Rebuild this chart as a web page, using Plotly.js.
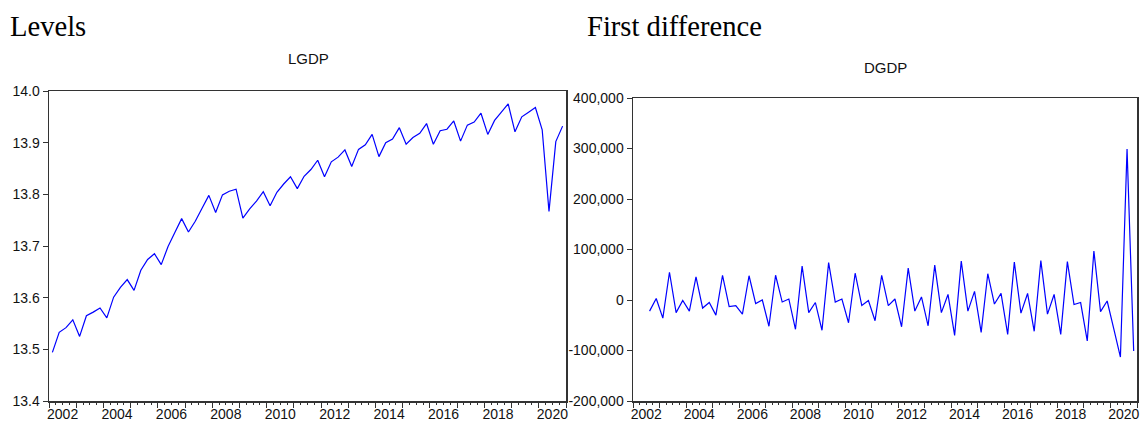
<!DOCTYPE html>
<html><head><meta charset="utf-8">
<script src="https://cdn.plot.ly/plotly-3.0.1.min.js"></script>
<style>html,body{margin:0;padding:0;background:#fff}#chart{width:1140px;height:423px}</style>
</head><body><div id="chart"></div>
<script>
// ---- data (quarterly) ----
const lgdpStart = {year: 2002, quarter: 1};
const lgdp = [
  13.494, 13.533, 13.542, 13.557, 13.525, 13.565, 13.572, 13.580,
  13.561, 13.601, 13.620, 13.635, 13.614, 13.653, 13.674, 13.685,
  13.664, 13.699, 13.726, 13.753, 13.727, 13.748, 13.773, 13.798,
  13.765, 13.799, 13.806, 13.810, 13.754, 13.772, 13.787, 13.805,
  13.778, 13.804, 13.820, 13.834, 13.811, 13.835, 13.848, 13.866,
  13.834, 13.863, 13.872, 13.886, 13.854, 13.887, 13.896, 13.916,
  13.873, 13.900, 13.907, 13.929, 13.897, 13.910, 13.918, 13.937,
  13.897, 13.923, 13.926, 13.942, 13.903, 13.934, 13.940, 13.957,
  13.916, 13.943, 13.959, 13.975, 13.921, 13.950, 13.959, 13.968,
  13.925, 13.767, 13.902, 13.932
];
const dgdpStart = {year: 2002, quarter: 3};
const dgdp = [
  -22000, 3000, -36000, 55000, -25000, -1000, -22000, 46000,
  -16000, -5000, -30000, 49000, -13000, -11000, -28000, 48000,
  -7000, 0, -52000, 49000, -4000, 2000, -58000, 67000,
  -25000, -5000, -60000, 74000, -4000, 2000, -45000, 53000,
  -11000, -1000, -41000, 49000, -11000, 2000, -53000, 63000,
  -22000, 6000, -51000, 69000, -25000, 11000, -70000, 77000,
  -22000, 17000, -64000, 52000, -8000, 13000, -68000, 75000,
  -26000, 13000, -62000, 78000, -28000, 11000, -68000, 76000,
  -9000, -5000, -81000, 97000, -23000, -2000, -57000, -113000,
  299000, -101000
];
const yearLabels = ['2002','2004','2006','2008','2010','2012','2014','2016','2018','2020'];
const lgdpTicks = [13.4, 13.5, 13.6, 13.7, 13.8, 13.9, 14.0];
const lgdpTickText = ['13.4','13.5','13.6','13.7','13.8','13.9','14.0'];
const dgdpTicks = [-200000, -100000, 0, 100000, 200000, 300000, 400000];
const dgdpTickText = ['-200,000','-100,000','0','100,000','200,000','300,000','400,000'];
const firstYear = 2002, lastYear = 2020;

// quarter -> axis position (middle of quarter, in years)
function quarterPositions(start, n) {
  const out = [];
  for (let i = 0; i < n; i++) {
    const q = start.quarter - 1 + i;
    out.push(start.year + Math.floor(q / 4) + ((q % 4) + 0.5) / 4);
  }
  return out;
}

const tickFont = {family: 'Liberation Sans, Arial, sans-serif', size: 14, color: '#111'};
const lineColor = '#333';
const xRange = [firstYear, lastYear + 1];
const labelVals = yearLabels.map(y => Number(y) + 0.5);

function labelAxis(domain, anchor) {
  return {domain, anchor, range: xRange, type: 'linear', tickmode: 'array',
    tickvals: labelVals, ticktext: yearLabels, ticks: '', tickfont: tickFont,
    showgrid: false, zeroline: false, showline: true, mirror: true,
    linecolor: lineColor, linewidth: 1.5, fixedrange: true};
}
function tickAxis(overlay, anchor) {
  return {overlaying: overlay, anchor, range: xRange, type: 'linear', tickmode: 'linear',
    tick0: firstYear, dtick: 1, ticks: 'outside', ticklen: 6, tickcolor: lineColor, tickwidth: 1,
    showticklabels: false, showgrid: false, zeroline: false, showline: false,
    minor: {ticks: 'outside', ticklen: 3, tickmode: 'linear', tick0: firstYear, dtick: 0.25,
            tickcolor: lineColor, tickwidth: 1, showgrid: false}};
}

const traces = [
  {x: quarterPositions(lgdpStart, lgdp.length), y: lgdp, xaxis: 'x', yaxis: 'y',
   type: 'scatter', mode: 'lines', line: {color: '#0000ff', width: 1.2}, hoverinfo: 'skip'},
  {x: quarterPositions(dgdpStart, dgdp.length), y: dgdp, xaxis: 'x2', yaxis: 'y2',
   type: 'scatter', mode: 'lines', line: {color: '#0000ff', width: 1.2}, hoverinfo: 'skip'},
  {x: [], y: [], xaxis: 'x3', yaxis: 'y', type: 'scatter', mode: 'lines', hoverinfo: 'skip'},
  {x: [], y: [], xaxis: 'x4', yaxis: 'y2', type: 'scatter', mode: 'lines', hoverinfo: 'skip'}
];

const W = 1140, H = 423;
const serif = {family: 'Liberation Serif, Times New Roman, serif', size: 28.6, color: '#000'};
const sans = {family: 'Liberation Sans, Arial, sans-serif', size: 15, color: '#111'};
const layout = {
  width: W, height: H, margin: {l: 0, r: 0, t: 0, b: 0},
  paper_bgcolor: '#fff', plot_bgcolor: '#fff', showlegend: false,
  xaxis: labelAxis([49 / W, 566 / W], 'y'),
  xaxis2: labelAxis([633 / W, 1137 / W], 'y2'),
  xaxis3: tickAxis('x', 'y'),
  xaxis4: tickAxis('x2', 'y2'),
  yaxis: {domain: [(H - 401) / H, (H - 91) / H], anchor: 'x', range: [13.4, 14.0],
    tickmode: 'array', tickvals: lgdpTicks, ticktext: lgdpTickText, ticks: 'outside',
    ticklen: 5, tickcolor: lineColor, tickfont: tickFont, showgrid: false, zeroline: false,
    showline: true, mirror: true, linecolor: lineColor, linewidth: 1.5, fixedrange: true},
  yaxis2: {domain: [(H - 401) / H, (H - 98) / H], anchor: 'x2', range: [-200000, 400000],
    tickmode: 'array', tickvals: dgdpTicks, ticktext: dgdpTickText, ticks: 'outside',
    ticklen: 5, tickcolor: lineColor, tickfont: tickFont, showgrid: false, zeroline: false,
    showline: true, mirror: true, linecolor: lineColor, linewidth: 1.5, fixedrange: true},
  annotations: [
    {text: 'Levels', xref: 'paper', yref: 'paper', x: 8 / W, y: 1 - 26.5 / H,
     xanchor: 'left', yanchor: 'middle', showarrow: false, font: serif},
    {text: 'First difference', xref: 'paper', yref: 'paper', x: 585 / W, y: 1 - 26.5 / H,
     xanchor: 'left', yanchor: 'middle', showarrow: false, font: serif},
    {text: 'LGDP', xref: 'paper', yref: 'paper', x: 308 / W, y: 1 - 58.5 / H,
     xanchor: 'center', yanchor: 'middle', showarrow: false, font: sans},
    {text: 'DGDP', xref: 'paper', yref: 'paper', x: 885 / W, y: 1 - 67 / H,
     xanchor: 'center', yanchor: 'middle', showarrow: false, font: sans}
  ]
};

Plotly.newPlot('chart', traces, layout, {staticPlot: true, displayModeBar: false});
</script>
</body></html>
